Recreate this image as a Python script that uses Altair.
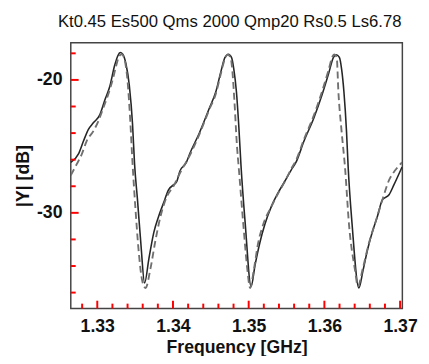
import altair as alt
import pandas as pd

# Solid curve (measured)
solid_f = [1.32650, 1.32754, 1.32819, 1.32883, 1.32948, 1.33035, 1.33100, 1.33164, 1.33229, 1.33272,
           1.33302, 1.33337, 1.33379, 1.33423, 1.33466, 1.33492, 1.33531, 1.33576, 1.33625, 1.33682,
           1.33747, 1.33812, 1.33876, 1.33941, 1.34006, 1.34049, 1.34091, 1.34178, 1.34221, 1.34350,
           1.34480, 1.34566, 1.34631, 1.34687, 1.34731, 1.34773, 1.34803, 1.34838, 1.34868, 1.34899,
           1.34955, 1.35032, 1.35084, 1.35149, 1.35214, 1.35300, 1.35386, 1.35473, 1.35559, 1.35624,
           1.35732, 1.35861, 1.35968, 1.36055, 1.36120, 1.36155, 1.36198, 1.36227, 1.36258, 1.36292,
           1.36314, 1.36366, 1.36456, 1.36508, 1.36573, 1.36638, 1.36702, 1.36767, 1.36854, 1.36918,
           1.37026]
solid_y = [-26.21, -25.54, -24.58, -23.72, -23.23, -22.61, -21.51, -20.52, -18.92, -18.18,
           -17.94, -18.07, -18.80, -20.40, -23.35, -26.28, -29.01, -32.33, -35.28, -33.44,
           -31.47, -30.24, -29.25, -28.27, -27.90, -27.66, -26.87, -26.18, -25.56, -23.97,
           -22.13, -20.89, -19.42, -18.31, -18.07, -18.31, -19.17, -20.89, -23.35, -26.50,
           -30.86, -35.53, -33.93, -32.21, -30.86, -29.51, -28.52, -27.66, -26.80, -26.21,
           -24.58, -22.86, -21.14, -19.54, -18.31, -18.11, -18.31, -19.17, -20.89, -23.85,
           -26.55, -30.86, -35.65, -34.40, -32.70, -31.35, -30.24, -29.01, -28.64, -27.90,
           -26.55]

# Dashed curve (measured)
dashed_f = [1.32650, 1.32732, 1.32797, 1.32861, 1.32948, 1.33013, 1.33078, 1.33142, 1.33207, 1.33250,
            1.33294, 1.33324, 1.33359, 1.33401, 1.33436, 1.33466, 1.33505, 1.33544, 1.33596, 1.33638,
            1.33703, 1.33768, 1.33832, 1.33919, 1.34006, 1.34091, 1.34221, 1.34350, 1.34480, 1.34566,
            1.34631, 1.34687, 1.34722, 1.34760, 1.34786, 1.34812, 1.34845, 1.34868, 1.34929, 1.34981,
            1.35019, 1.35071, 1.35123, 1.35188, 1.35300, 1.35386, 1.35473, 1.35559, 1.35624, 1.35732,
            1.35861, 1.35968, 1.36055, 1.36107, 1.36133, 1.36163, 1.36185, 1.36227, 1.36272, 1.36327,
            1.36401, 1.36443, 1.36508, 1.36586, 1.36680, 1.36767, 1.36854, 1.36935, 1.37026]
dashed_y = [-27.17, -26.30, -25.56, -24.58, -23.85, -23.11, -22.13, -21.14, -19.91, -18.92,
            -18.18, -18.07, -18.44, -20.15, -23.11, -26.30, -29.75, -32.70, -35.16, -35.65,
            -34.18, -32.09, -30.34, -28.77, -28.00, -27.02, -25.69, -24.07, -22.22, -21.04,
            -19.56, -18.39, -18.09, -18.31, -19.42, -21.63, -24.95, -26.55, -30.86, -34.18,
            -35.65, -34.18, -32.33, -30.93, -29.53, -28.57, -27.69, -26.72, -26.06, -24.44,
            -22.66, -20.89, -19.27, -18.24, -18.09, -18.31, -20.89, -23.85, -26.55, -31.00,
            -34.18, -35.51, -34.18, -32.33, -30.61, -29.01, -27.54, -26.80, -26.21]

x_major = [1.33, 1.34, 1.35, 1.36, 1.37]
x_minor = [1.328, 1.332, 1.334, 1.336, 1.338, 1.342, 1.344, 1.346, 1.348,
           1.352, 1.354, 1.356, 1.358, 1.362, 1.364, 1.366, 1.368]
y_major = [-20, -30]
y_minor = [-18, -22, -24, -26, -28, -32, -34, -36]

X_DOMAIN = [1.3265, 1.3703]
Y_DOMAIN = [-37.2, -17.2]

TITLE = "Kt0.45 Es500 Qms 2000 Qmp20 Rs0.5 Ls6.78"
X_TITLE = "Frequency [GHz]"
Y_TITLE = "|Y| [dB]"

xs = alt.Scale(domain=X_DOMAIN, nice=False, zero=False)
ys = alt.Scale(domain=Y_DOMAIN, nice=False, zero=False)

df_s = pd.DataFrame({"f": solid_f, "y": solid_y})
df_d = pd.DataFrame({"f": dashed_f, "y": dashed_y})

x_enc = alt.X("f:Q", scale=xs, title=X_TITLE,
              axis=alt.Axis(values=x_major, format=".2f", labelFlush=False))
y_enc = alt.Y("y:Q", scale=ys, title=Y_TITLE,
              axis=alt.Axis(values=y_major, labelExpr="'' + datum.value"))

solid = alt.Chart(df_s).mark_line(color="#262626", strokeWidth=1.6,
                                  interpolate="monotone", clip=True).encode(x=x_enc, y=y_enc)
dashed = alt.Chart(df_d).mark_line(color="#707070", strokeWidth=1.9, strokeDash=[7, 4],
                                   interpolate="monotone", clip=True).encode(x=x_enc, y=y_enc)

TICK_COLOR = "#ff0000"

def xticks(vals, length):
    d = pd.DataFrame({"tx": vals})
    return alt.Chart(d).mark_rule(color=TICK_COLOR, strokeWidth=2, y2Offset=-length).encode(
        x=alt.X("tx:Q", scale=xs),
        y=alt.YDatum(Y_DOMAIN[0]),
        y2=alt.Y2Datum(Y_DOMAIN[0]),
    )

def yticks(vals, length):
    d = pd.DataFrame({"ty": vals})
    return alt.Chart(d).mark_rule(color=TICK_COLOR, strokeWidth=2, x2Offset=length).encode(
        y=alt.Y("ty:Q", scale=ys),
        x=alt.XDatum(X_DOMAIN[0]),
        x2=alt.X2Datum(X_DOMAIN[0]),
    )

chart = alt.layer(
    solid, dashed,
    xticks(x_major, 8), xticks(x_minor, 5),
    yticks(y_major, 8), yticks(y_minor, 5),
).properties(
    width=338, height=271,
    autosize=alt.AutoSizeParams(type="none"),
    padding={"left": 64, "top": 32, "right": 19, "bottom": 45},
    title=alt.TitleParams(TITLE, font="Liberation Sans", fontSize=17, fontWeight="normal",
                          color="#111111", frame="group", anchor="middle", offset=12, dx=-7),
).configure_view(
    stroke="#444444", strokeWidth=1.5
).configure_axis(
    ticks=False, domain=False, grid=False,
    labelFont="Liberation Sans", labelFontSize=18, labelFontWeight="bold", labelColor="#111111",
    titleFont="Liberation Sans", titleFontSize=18, titleFontWeight="bold", titleColor="#111111",
    labelPadding=9, titlePadding=4,
)

chart.save("out.html", embed_options={"renderer": "svg", "actions": False})
